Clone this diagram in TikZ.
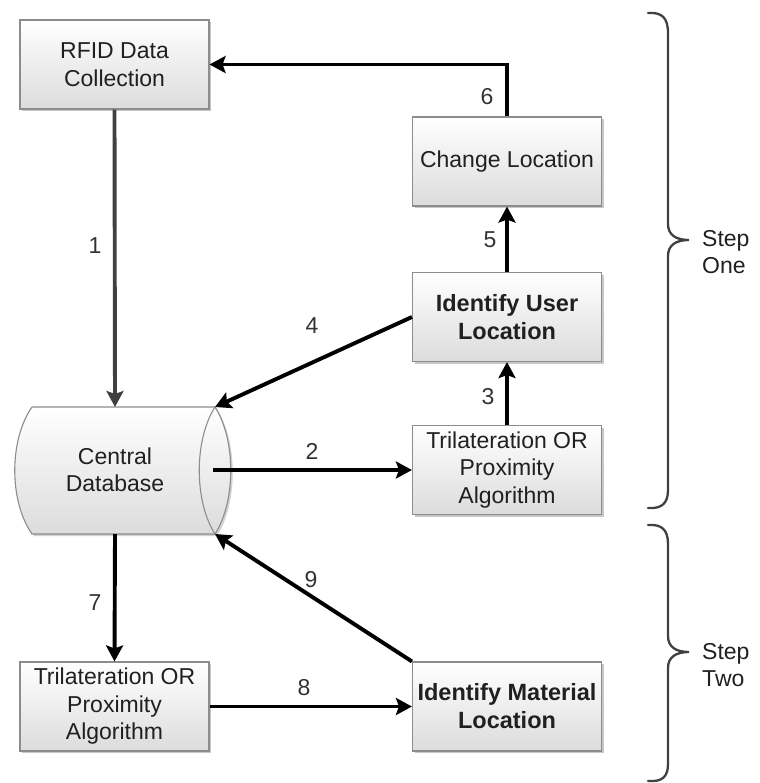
\documentclass[tikz,border=0pt]{standalone}
\usepackage{fontspec}
\setmainfont{Liberation Sans}
\usetikzlibrary{shadows,arrows.meta}
\definecolor{boxedge}{HTML}{8C8C8C}
\definecolor{boxbot}{HTML}{DCDCDC}
\definecolor{darkline}{HTML}{404040}
\definecolor{txt}{HTML}{202020}
\definecolor{numtxt}{HTML}{333333}
\tikzset{
  box/.style={draw=boxedge, line width=1.1pt, top color=white, bottom color=boxbot,
    minimum width=189pt, minimum height=89pt, inner sep=0pt, align=center, text=txt,
    drop shadow={shadow xshift=2pt, shadow yshift=-2pt, fill=black, opacity=0.22}},
  boldbox/.style={box, font=\fontsize{23.5}{28}\selectfont\bfseries},
  arr/.style={line width=3.9pt, draw=black, -{Stealth[length=16pt,width=17pt,inset=3pt]}},
  grayarr/.style={arr, draw=darkline, fill=darkline},
  num/.style={text=numtxt, inner sep=1pt},
  bracestyle/.style={draw=darkline, line width=2.3pt, line cap=round},
  steplabel/.style={align=left, anchor=west, text=txt, inner sep=0pt}
}
\begin{document}
\begin{tikzpicture}[x=1pt, y=-1pt, font=\fontsize{23}{27.5}\selectfont]
\useasboundingbox (0,0) rectangle (759,783);

% boxes
\node[box] (rfid) at (114.5,64.5) {RFID Data\\Collection};
\node[box] (chg) at (507,161.5) {Change Location};
\node[boldbox] (iul) at (507,317) {Identify User\\Location};
\node[box] (tri1) at (507,470) {Trilateration OR\\Proximity\\Algorithm};
\node[box] (tri2) at (114.5,706.5) {Trilateration OR\\Proximity\\Algorithm};
\node[boldbox] (iml) at (507,706.5) {Identify Material\\Location};

% database cylinder
\path[draw=boxedge, line width=1.1pt, top color=white, bottom color=boxbot,
      drop shadow={shadow xshift=2pt, shadow yshift=-2pt, fill=black, opacity=0.18}]
  (32,407) -- (215,407) .. controls (236,440) and (236,501) .. (215,534)
  -- (32,534) .. controls (9,501) and (9,440) .. (32,407) -- cycle;
\draw[draw=boxedge, line width=1.1pt] (215,407) .. controls (194,440) and (194,501) .. (215,534);
\node[align=center, text=txt] (db) at (115,470) {Central\\Database};
\coordinate (dbtop) at (115,407);
\coordinate (dbbot) at (115,534);
\coordinate (dbtr) at (215,407);
\coordinate (dbbr) at (215,534);
\coordinate (dbr) at (213,470);

% connectors
\draw[grayarr] (rfid.south) -- (dbtop);
\draw[arr] (dbr) -- (tri1.west);
\draw[arr] (tri1.north) -- (iul.south);
\draw[arr] (iul.west) -- (dbtr);
\draw[arr] (iul.north) -- (chg.south);
\draw[arr] (chg.north) |- (rfid.east);
\draw[arr] (dbbot) -- (tri2.north);
\draw[arr] (tri2.east) -- (iml.west);
\draw[arr] (iml.north west) -- (dbbr);

% numbers
\node[num] (n1) at (95,246) {1};
\node[num] (n2) at (312,451) {2};
\node[num] (n3) at (488,397) {3};
\node[num] (n4) at (312,326) {4};
\node[num] (n5) at (490,240) {5};
\node[num] (n6) at (487,97) {6};
\node[num] (n7) at (95,603) {7};
\node[num] (n8) at (304,688) {8};
\node[num] (n9) at (311,580) {9};

% braces
\draw[bracestyle] (648,13) .. controls (662,12) and (668,18) .. (668,33)
  -- (668,224) .. controls (668,235) and (676,240) .. (689,240)
  .. controls (676,240) and (668,245) .. (668,256)
  -- (668,490) .. controls (668,503) and (662,509) .. (648,508);
\draw[bracestyle] (648,525) .. controls (662,524) and (668,530) .. (668,544)
  -- (668,636) .. controls (668,647) and (676,652) .. (689,652)
  .. controls (676,652) and (668,657) .. (668,668)
  -- (668,764) .. controls (668,777) and (662,782) .. (648,781);
\node[steplabel] (s1) at (702,252) {Step\\One};
\node[steplabel] (s2) at (702,665) {Step\\Two};
\end{tikzpicture}
\end{document}
